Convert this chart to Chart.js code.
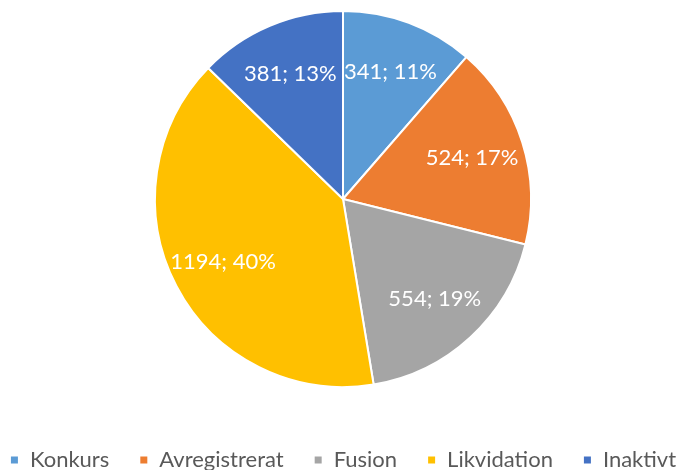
<!DOCTYPE html>
<html>
<head>
<meta charset="utf-8">
<script src="https://cdn.jsdelivr.net/npm/chart.js@4.4.1/dist/chart.umd.min.js"></script>
<style>
  html, body { margin: 0; padding: 0; background: #fff; }
  #wrap { width: 686px; height: 470px; }
</style>
</head>
<body>
<div id="wrap"><canvas id="pie"></canvas></div>
<script>
// Konkursstatistik per orsak
const categories = ['Konkurs', 'Avregistrerat', 'Fusion', 'Likvidation', 'Inaktivt'];
const counts     = [341, 524, 554, 1194, 381];
const percents   = [11, 17, 19, 40, 13];
const colors     = ['#5B9BD5', '#ED7D31', '#A5A5A5', '#FFC000', '#4472C4'];

// Data labels "antal; procent" drawn inside each slice
const sliceLabels = {
  id: 'sliceLabels',
  afterDatasetsDraw(chart) {
    const ctx = chart.ctx;
    const meta = chart.getDatasetMeta(0);
    ctx.save();
    ctx.fillStyle = '#fff';
    ctx.font = '22px Lato';
    ctx.textAlign = 'center';
    ctx.textBaseline = 'middle';
    meta.data.forEach((arc, i) => {
      const mid = (arc.startAngle + arc.endAngle) / 2;
      const r = arc.outerRadius * 0.72;
      const x = arc.x + Math.cos(mid) * r;
      const y = arc.y + Math.sin(mid) * r;
      ctx.fillText(counts[i] + '; ' + percents[i] + '%', x, y);
    });
    ctx.restore();
  }
};

new Chart(document.getElementById('pie'), {
  type: 'pie',
  data: {
    labels: categories,
    datasets: [{
      data: counts,
      backgroundColor: colors,
      borderColor: '#fff',
      borderWidth: 2,
      radius: 188
    }]
  },
  options: {
    responsive: true,
    maintainAspectRatio: false,
    animation: false,
    // negative padding: legend sits low and wide like the original
    layout: { padding: { top: 0, bottom: -11, left: -30, right: -30 } },
    plugins: {
      tooltip: { enabled: false },
      legend: {
        position: 'bottom',
        // empty title only adds space between pie and legend row
        title: { display: true, text: '', font: { size: 10 }, padding: { top: 5, bottom: 4 } },
        labels: {
          boxWidth: 9,
          boxHeight: 9,
          padding: 30,
          color: '#595959',
          font: { family: 'Lato', size: 22 }
        }
      }
    }
  },
  plugins: [sliceLabels]
});
</script>
</body>
</html>
